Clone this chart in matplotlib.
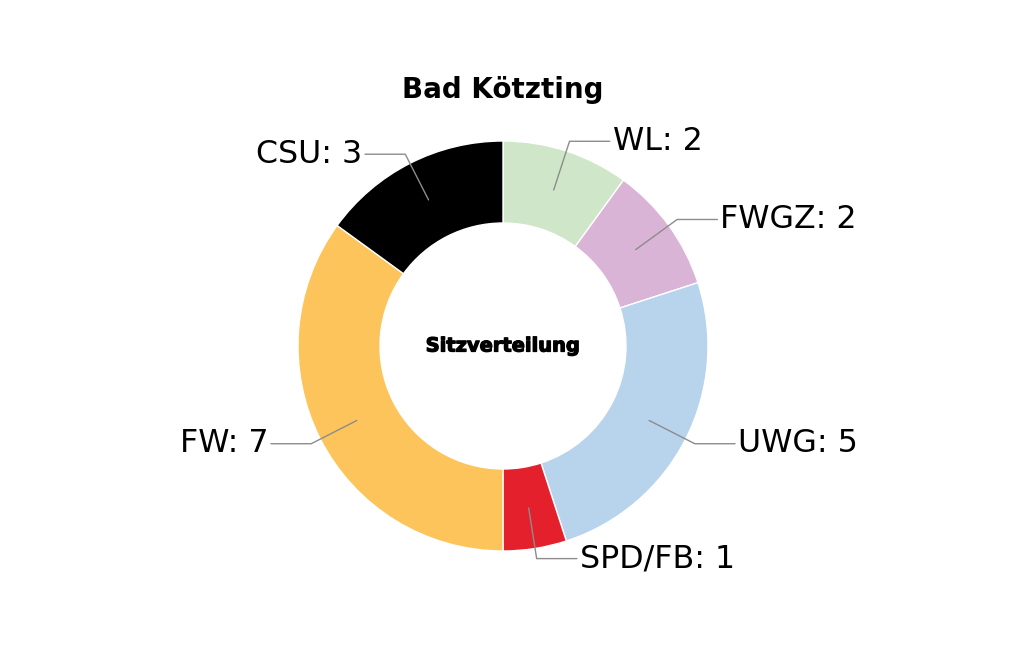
import numpy as np
import matplotlib
matplotlib.use("Agg")
import matplotlib.pyplot as plt
import matplotlib.patheffects as pe

parties = ["WL", "FWGZ", "UWG", "SPD/FB", "FW", "CSU"]
seats = [2, 2, 5, 1, 7, 3]
colors = ["#cfe6c9", "#d9b4d6", "#b8d3ec", "#e4202d", "#fdc45b", "#000000"]
title = "Bad Kötzting"
center_text = "Sitzverteilung"

W, H = 1024, 658
fig = plt.figure(figsize=(W / 100, H / 100), dpi=100)
ax = fig.add_axes([0, 0, 1, 1])
scale = 205.0
cx, cy = 503.0, 346.0

wedges, _ = ax.pie(seats, colors=colors, startangle=90, counterclock=False,
                   radius=1.0, wedgeprops=dict(width=0.4, edgecolor="white", linewidth=1.0))
ax.set_aspect("auto")
ax.set_xlim(-cx / scale, (W - cx) / scale)
ax.set_ylim(-(H - cy) / scale, cy / scale)
ax.axis("off")

for w, p, s in zip(wedges, parties, seats):
    ang = (w.theta2 + w.theta1) / 2.0
    x = np.cos(np.deg2rad(ang))
    y = np.sin(np.deg2rad(ang))
    sgn = 1 if x >= 0 else -1
    ha = "left" if sgn > 0 else "right"
    ax.annotate(f"{p}: {s}", xy=(0.8 * x, 0.8 * y),
                xytext=(1.05 * x + 0.21 * sgn, 1.05 * y),
                ha=ha, va="center", fontsize=22.8, color="black",
                arrowprops=dict(arrowstyle="-", color="#8c8c8c", lw=1.0,
                                shrinkA=0, shrinkB=0,
                                connectionstyle=f"angle,angleA=0,angleB={ang}"))

ax.text(0, 0, center_text, ha="center", va="center", fontsize=14,
        fontweight="heavy", color="black",
        path_effects=[pe.withStroke(linewidth=0.9, foreground="black")])
fig.text(cx / W, 1 - 90 / H, title, ha="center", va="center", fontsize=20,
         fontweight="bold", color="black")

fig.savefig("out.png", dpi=100, facecolor="white")
